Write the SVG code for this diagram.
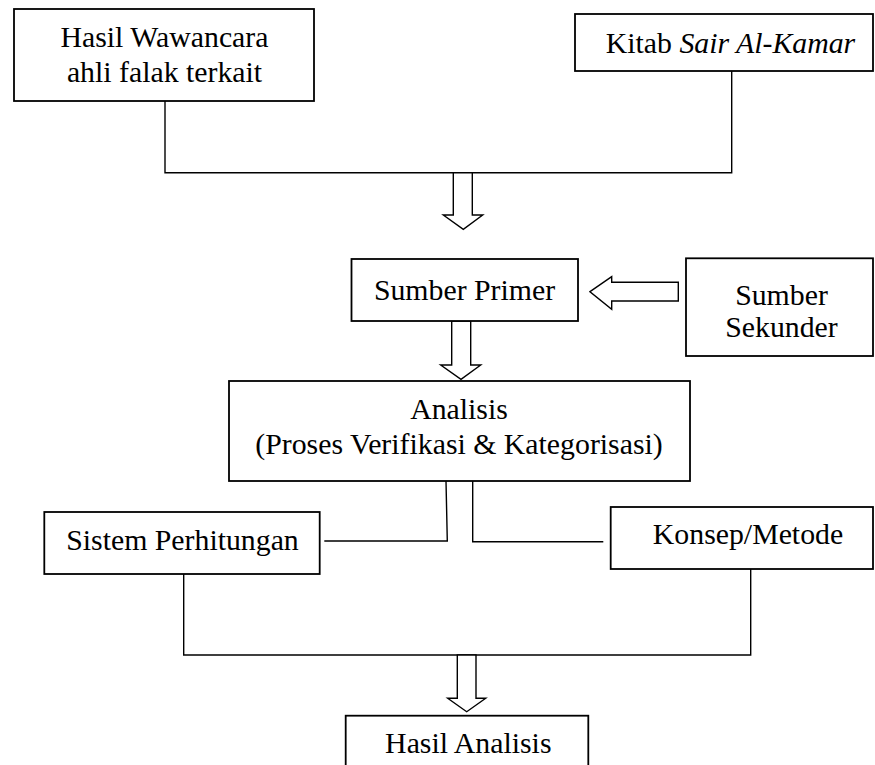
<svg xmlns="http://www.w3.org/2000/svg" width="875" height="765" viewBox="0 0 875 765">
<style>
.box{fill:#fff;stroke:#000;stroke-width:1.8}
.ln{fill:none;stroke:#000;stroke-width:1.4}
.arr{fill:#fff;stroke:#000;stroke-width:1.4;stroke-linejoin:miter}
text{font-family:"Liberation Serif","Times New Roman",serif;font-size:29.8px;fill:#000;text-anchor:middle}
</style>
<rect width="875" height="765" fill="#fff"/>
<g id="connectors">
<polyline class="ln" points="165,101 165,172.7 731.7,172.7 731.7,71"/>
<polygon class="arr" points="453.3,172.7 453.3,215 443.3,215 463.3,229.3 482.7,215 472.3,215 472.3,172.7"/>
<polygon class="arr" points="590,291.7 611.7,276.7 611.7,282.3 678.3,282.3 678.3,301 611.7,301 611.7,309.3"/>
<polygon class="arr" points="451.7,321 451.7,365 440.7,365 461,379.3 480.7,365 470.7,365 470.7,321"/>
<polyline class="ln" points="446,481 447.3,541 324.3,541"/>
<polyline class="ln" points="472.7,481 472.7,541.7 603.3,541.7"/>
<polyline class="ln" points="183.7,574 183.7,655 750.7,655 750.7,569"/>
<polygon class="arr" points="457.3,655 457.3,698.3 447.7,698.3 466.7,711.7 485.7,698.3 476,698.3 476,655"/>
</g>
<g id="n-wawancara">
<rect class="box" x="14" y="9" width="300" height="92"/>
<text x="164.5" y="47">Hasil Wawancara</text>
<text x="164.5" y="82">ahli falak terkait</text>
</g>
<g id="n-kitab">
<rect class="box" x="575" y="14" width="298" height="57"/>
<text x="730.5" y="53.3">Kitab <tspan font-style="italic">Sair Al-Kamar</tspan></text>
</g>
<g id="n-primer">
<rect class="box" x="351.5" y="259" width="226.5" height="62"/>
<text x="464.5" y="299.5">Sumber Primer</text>
</g>
<g id="n-sekunder">
<rect class="box" x="686" y="258.3" width="187" height="97.7"/>
<text x="781.5" y="305">Sumber</text>
<text x="781.5" y="336.7">Sekunder</text>
</g>
<g id="n-analisis">
<rect class="box" x="229" y="381" width="461" height="100"/>
<text x="459" y="419.3">Analisis</text>
<text x="459" y="454.3">(Proses Verifikasi &amp; Kategorisasi)</text>
</g>
<g id="n-sistem">
<rect class="box" x="44.3" y="512" width="275.4" height="62"/>
<text x="182.5" y="550">Sistem Perhitungan</text>
</g>
<g id="n-konsep">
<rect class="box" x="610.7" y="507" width="262.3" height="62"/>
<text x="748" y="544">Konsep/Metode</text>
</g>
<g id="n-hasil">
<rect class="box" x="345.7" y="715.7" width="242.6" height="60"/>
<text x="468.3" y="753.3">Hasil Analisis</text>
</g>
</svg>
